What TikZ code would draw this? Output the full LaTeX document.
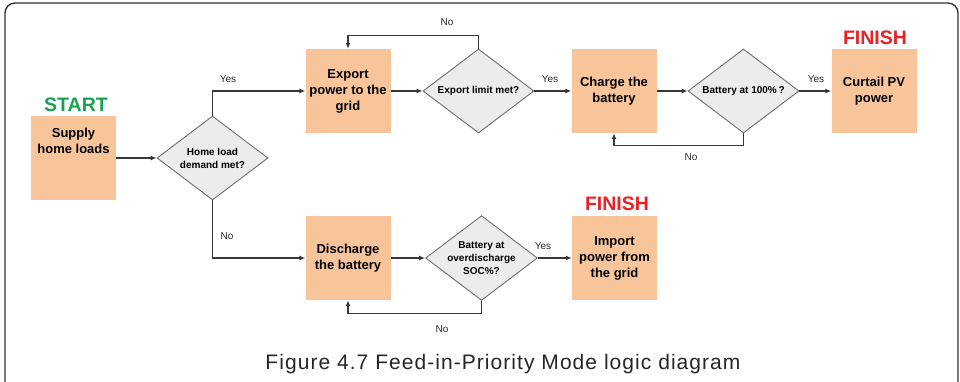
\documentclass[tikz,border=0pt]{standalone}
\usepackage{fontspec}
\setmainfont{Liberation Sans}
\newfontfamily\capfont[LetterSpace=5]{Liberation Sans}
\usepackage{tikz}
\usetikzlibrary{arrows.meta,shapes.geometric}

\definecolor{boxfill}{RGB}{248,197,155}
\definecolor{decfill}{RGB}{236,236,236}
\definecolor{decline}{RGB}{110,110,110}
\definecolor{flowline}{RGB}{55,55,55}
\definecolor{startgreen}{RGB}{20,165,80}
\definecolor{finishred}{RGB}{237,32,38}

\begin{document}
\begin{tikzpicture}[x=1pt, y=-1pt, >={Latex[length=6pt,width=5pt]},
  box/.style={fill=boxfill, minimum width=85pt, minimum height=84pt, inner sep=0pt,
    align=center, font=\fontsize{13}{16}\selectfont\bfseries},
  decision/.style={diamond, draw=decline, line width=0.9pt, fill=decfill,
    minimum width=111pt, minimum height=84pt, inner sep=0pt, aspect=1.32,
    align=center, font=\fontsize{10}{13}\selectfont\bfseries},
  flow/.style={->, draw=flowline, line width=1.2pt},
  answer/.style={font=\fontsize{10}{12}\selectfont, text=black!85}]
\useasboundingbox (0,0) rectangle (960,382);

% Frame
\draw[line width=1.4pt, draw=black!80, rounded corners=10pt] (5,3) rectangle (958,395);

% Steps
\node[box] (supply) at (73.5,158) {Supply\\home loads\\[18pt]\mbox{}};
\node[box] (export) at (348,91) {Export\\power to the\\grid};
\node[box] (charge) at (614,91) {Charge the\\battery};
\node[box] (curtail) at (874,91) {Curtail PV\\power};
\node[box] (discharge) at (348,258) {Discharge\\the battery};
\node[box] (import) at (614.5,258) {Import\\power from\\the grid};

% Decisions
\node[decision] (home) at (212.5,158) {Home load\\demand met?};
\node[decision] (explim) at (478.5,91) {Export limit met?};
\node[decision] (full) at (743.5,91) {Battery at 100\%\,?};
\node[decision] (soc) at (481.5,258) {Battery at\\overdischarge\\SOC\%?};

% Start / finish marks
\node[font=\fontsize{19.5}{22}\selectfont\bfseries, text=startgreen] (start) at (76,105) {START};
\node[font=\fontsize{19.5}{22}\selectfont\bfseries, text=finishred] (finishtop) at (875,38) {FINISH};
\node[font=\fontsize{19.5}{22}\selectfont\bfseries, text=finishred] (finishlow) at (617,204) {FINISH};

% Connectors
\draw[flow] (supply) -- (home);
\draw[flow] (home.north) |- (export.west);
\draw[flow] (export) -- (explim);
\draw[flow] (explim.north) -- ++(0,-13) -| (export.north);
\draw[flow] (explim) -- (charge);
\draw[flow] (charge) -- (full);
\draw[flow] (full.south) -- ++(0,12) -| (charge.south);
\draw[flow] (full) -- (curtail);
\draw[flow] (home.south) |- (discharge.west);
\draw[flow] (discharge) -- (soc);
\draw[flow] (soc) -- (import);
\draw[flow] (soc.south) -- ++(0,13) -| (discharge.south);

% Answer labels
\node[answer] (yhome) at (228,79) {Yes};
\node[answer] (nhome) at (227,236) {No};
\node[answer] (nexp) at (447,22) {No};
\node[answer] (yexp) at (550,79) {Yes};
\node[answer] (nfull) at (691,157) {No};
\node[answer] (yfull) at (816,79) {Yes};
\node[answer] (ysoc) at (543,246) {Yes};
\node[answer] (nsoc) at (442,329) {No};

% Caption
\node[font=\capfont\fontsize{21}{25}\selectfont, text=black!85, anchor=base] (caption) at (503,369)
  {Figure 4.7 Feed-in-Priority Mode logic diagram};
\end{tikzpicture}
\end{document}
